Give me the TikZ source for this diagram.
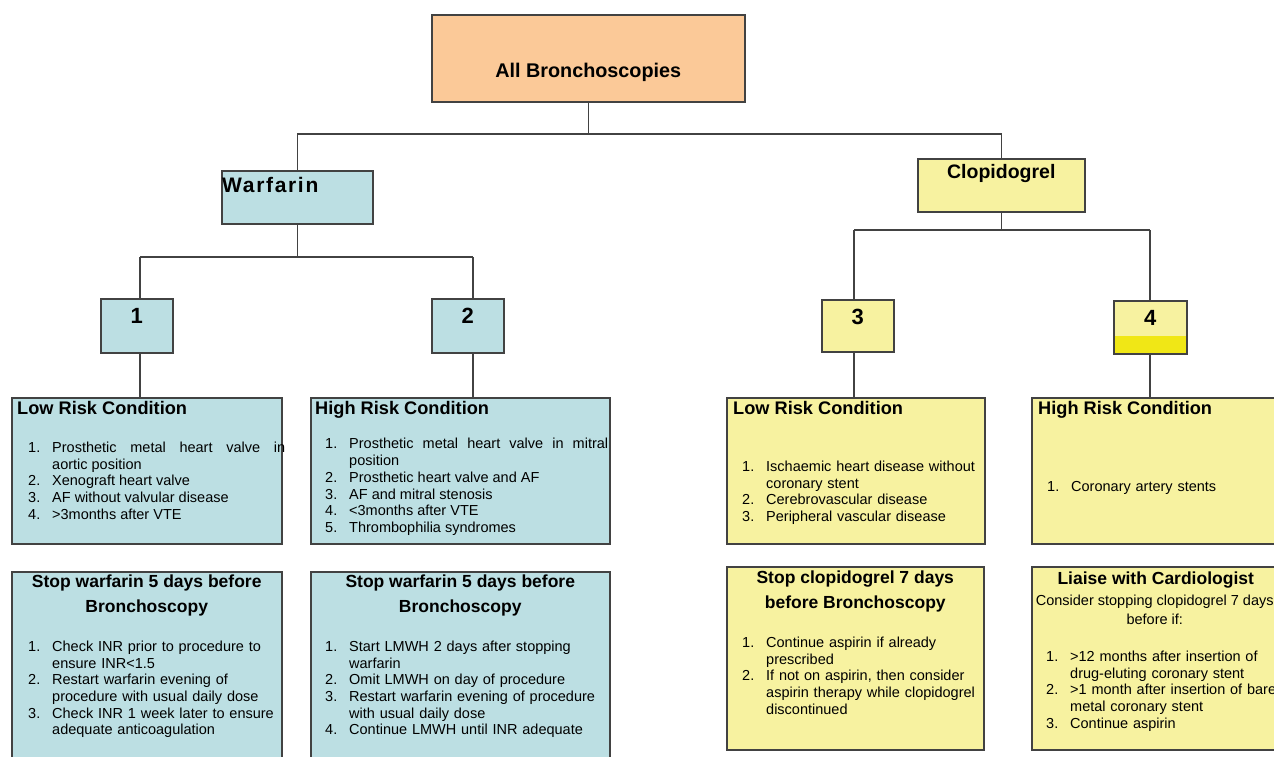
\documentclass[tikz,border=0pt]{standalone}
\usepackage{fontspec}
\setmainfont{Liberation Sans}
\usetikzlibrary{positioning}
\definecolor{boxorange}{RGB}{251,201,152}
\definecolor{boxblue}{RGB}{188,223,227}
\definecolor{boxyellow}{RGB}{247,242,160}
\definecolor{brightyellow}{RGB}{240,231,22}
\definecolor{edgegray}{RGB}{66,66,66}
\newlength{\lind}
\setlength{\lind}{24pt}
\newcommand{\litem}[2]{\noindent\hangindent=\lind\hangafter=1\makebox[\lind][l]{#1.}#2\par}

\begin{document}
\begin{tikzpicture}[x=1pt, y=-1pt,
		box/.style={draw=edgegray, line width=1.5pt, inner sep=0pt, anchor=north west},
		link/.style={draw=edgegray, line width=1.5pt},
		head/.style={font=\bfseries\fontsize{17.5}{25}\selectfont, inner sep=0pt},
		cond/.style={font=\bfseries\fontsize{18.2}{22}\selectfont, inner sep=0pt, anchor=base west},
		nr/.style={font=\bfseries\fontsize{22}{26}\selectfont, inner sep=0pt, anchor=base},
		items/.style={font=\fontsize{14.5}{16.7}\selectfont, inner sep=0pt, anchor=north west, align=left}]
		\fill[white] (0,0) rectangle (1274,756);
		\useasboundingbox (0,0) rectangle (1274,756);
		\clip (0,0) rectangle (1274,756);
		
		%boxes
		\node[box, fill=boxorange, minimum width=313pt, minimum height=87pt] (root) at (431,14) {};
		\node[box, fill=boxblue, minimum width=151pt, minimum height=53pt] (warf) at (221,170) {};
		\node[box, fill=boxyellow, minimum width=167pt, minimum height=53pt] (clop) at (917,158) {};
		\node[box, fill=boxblue, minimum width=72pt, minimum height=54pt] (n1) at (100,298) {};
		\node[box, fill=boxblue, minimum width=72pt, minimum height=54pt] (n2) at (431,298) {};
		\node[box, fill=boxyellow, minimum width=72pt, minimum height=52pt] (n3) at (821,299) {};
		\node[box, fill=boxyellow, minimum width=73pt, minimum height=53pt,
			path picture={\fill[brightyellow] (path picture bounding box.south west) rectangle ([yshift=18pt]path picture bounding box.south east);}] (n4) at (1113,300) {};
		\node[box, fill=boxblue, minimum width=270pt, minimum height=146pt] (lw) at (11,397) {};
		\node[box, fill=boxblue, minimum width=299pt, minimum height=146pt] (hw) at (310,397) {};
		\node[box, fill=boxblue, minimum width=270pt, minimum height=200pt] (sw) at (11,571) {};
		\node[box, fill=boxblue, minimum width=299pt, minimum height=200pt] (sh) at (310,571) {};
		\node[box, fill=boxyellow, minimum width=258pt, minimum height=146pt] (lc) at (726,397) {};
		\node[box, fill=boxyellow, minimum width=248pt, minimum height=146pt] (hc) at (1031,397) {};
		\node[box, fill=boxyellow, minimum width=257pt, minimum height=183pt] (sc) at (726,566) {};
		\node[box, fill=boxyellow, minimum width=248pt, minimum height=183pt] (card) at (1031,566) {};
		
		%titles
		\node[head, font=\bfseries\fontsize{19.8}{22}\selectfont, anchor=base] (roott) at ([shift={(0,63)}]root.north) {All Bronchoscopies};
		\node[head, font=\bfseries\fontsize{21}{24}\addfontfeature{LetterSpace=8}\selectfont, anchor=base west] (warft) at ([shift={(1,22.5)}]warf.north west) {Warfarin};
		\node[head, font=\bfseries\fontsize{19.5}{22}\selectfont, anchor=base] (clopt) at ([shift={(0,20.5)}]clop.north) {Clopidogrel};
		\foreach \n/\t in {n1/1, n2/2, n3/3, n4/4}{
			\node[nr] (\n-lbl) at ([shift={(0,25.5)}]\n.north) {\t};
		}
		
		%connectors
		\coordinate (rootbus) at (587.5,134);
		\coordinate (w1) at (140,257);
		\coordinate (w2) at (473,257);
		\coordinate (c3) at (854,230);
		\coordinate (c4) at (1150,230);
		\draw[link] (root.south) -- (root.south |- rootbus);
		\draw[link] (warf.north) |- (rootbus) -| (clop.north);
		\draw[link] (warf.south) -- (warf.south |- w1);
		\draw[link] (w1) -- (w2);
		\draw[link] (clop.south) -- (clop.south |- c3);
		\draw[link] (c3) -- (c4);
		\foreach \d/\n/\b in {w1/n1/lw, w2/n2/hw, c3/n3/lc, c4/n4/hc}{
			\draw[link] (\d) -- (\d |- \n.north);
			\draw[link] (\n.south -| \d) -- (\d |- \b.north);
		}
		
		%warfarin conditions
		\node[cond] (lwh) at ([shift={(6,17)}]lw.north west) {Low Risk Condition};
		\node[items, text width=257pt, align=justify] (lwl) at ([shift={(17,44.7)}]lw.north west) {%
			\litem{1}{Prosthetic metal heart valve in\linebreak aortic position}
			\litem{2}{Xenograft heart valve}
			\litem{3}{AF without valvular disease}
			\litem{4}{>3months after VTE}};
		\node[cond] (hwh) at ([shift={(5,17)}]hw.north west) {High Risk Condition};
		\node[items, text width=283pt, align=justify] (hwl) at ([shift={(15,41.2)}]hw.north west) {%
			\litem{1}{Prosthetic metal heart valve in mitral\linebreak position}
			\litem{2}{Prosthetic heart valve and AF}
			\litem{3}{AF and mitral stenosis}
			\litem{4}{<3months after VTE}
			\litem{5}{Thrombophilia syndromes}};
		
		%warfarin actions
		\node[head, anchor=north, align=center] (swh) at ([shift={(0,4)}]sw.north) {Stop warfarin 5 days before\\Bronchoscopy};
		\node[items, text width=260pt] (swl) at ([shift={(17,69.7)}]sw.north west) {%
			\litem{1}{Check INR prior to procedure to\newline ensure INR<1.5}
			\litem{2}{Restart warfarin evening of\newline procedure with usual daily dose}
			\litem{3}{Check INR 1 week later to ensure\newline adequate anticoagulation}};
		\node[head, anchor=north, align=center] (shh) at ([shift={(0,4)}]sh.north) {Stop warfarin 5 days before\\Bronchoscopy};
		\node[items, text width=290pt] (shl) at ([shift={(15,69.7)}]sh.north west) {%
			\litem{1}{Start LMWH 2 days after stopping\newline warfarin}
			\litem{2}{Omit LMWH on day of procedure}
			\litem{3}{Restart warfarin evening of procedure\newline with usual daily dose}
			\litem{4}{Continue LMWH until INR adequate}};
		
		%clopidogrel conditions
		\node[cond] (lch) at ([shift={(7,17)}]lc.north west) {Low Risk Condition};
		\node[items, text width=250pt] (lcl) at ([shift={(16,63.7)}]lc.north west) {%
			\litem{1}{Ischaemic heart disease without\newline coronary stent}
			\litem{2}{Cerebrovascular disease}
			\litem{3}{Peripheral vascular disease}};
		\node[cond] (hch) at ([shift={(7,17)}]hc.north west) {High Risk Condition};
		\node[items, text width=230pt] (hcl) at ([shift={(16,83.7)}]hc.north west) {%
			\litem{1}{Coronary artery stents}};
		
		%clopidogrel actions
		\node[head, anchor=north, align=center] (sch) at ([shift={(0,5)}]sc.north) {Stop clopidogrel 7 days\\before Bronchoscopy};
		\node[items, text width=250pt] (scl) at ([shift={(16,70.7)}]sc.north west) {%
			\litem{1}{Continue aspirin if already\newline prescribed}
			\litem{2}{If not on aspirin, then consider\newline aspirin therapy while clopidogrel\newline discontinued}};
		\node[head, anchor=base] (cardh) at ([shift={(0,18)}]card.north) {Liaise with Cardiologist};
		\node[font=\fontsize{14.5}{19}\selectfont, inner sep=0pt, anchor=north, align=center] (cardt) at ([shift={(-1,28.7)}]card.north) {Consider stopping clopidogrel 7 days\\before if:};
		\node[items, text width=240pt] (cardl) at ([shift={(15,84.7)}]card.north west) {%
			\litem{1}{>12 months after insertion of\newline drug-eluting coronary stent}
			\litem{2}{>1 month after insertion of bare\newline metal coronary stent}
			\litem{3}{Continue aspirin}};
\end{tikzpicture}
\end{document}
